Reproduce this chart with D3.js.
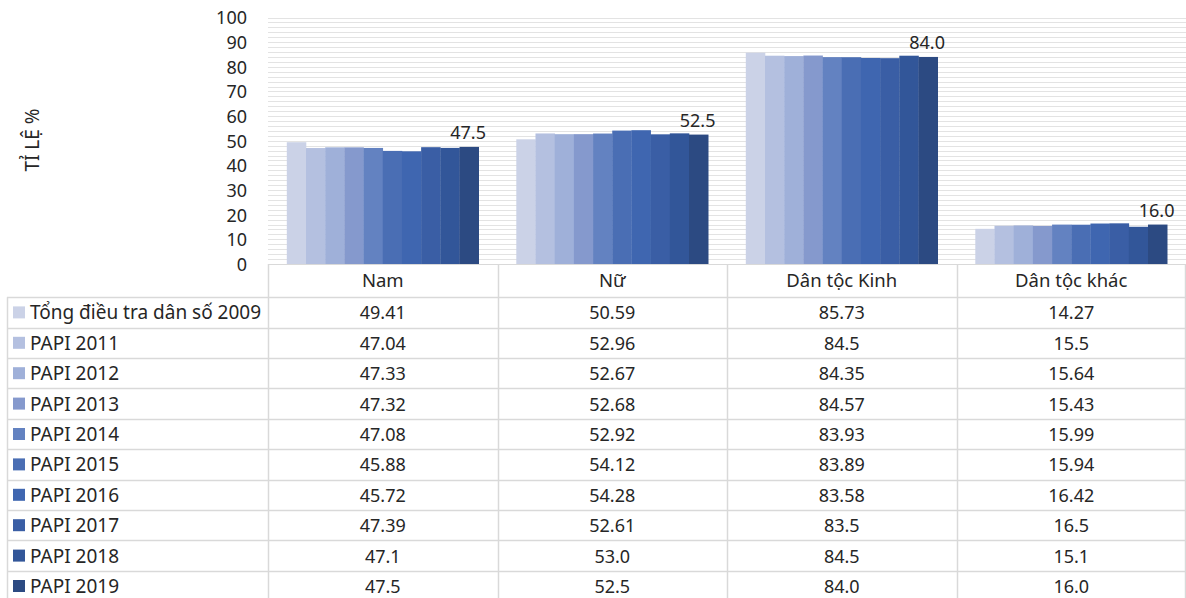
<!DOCTYPE html>
<html>
<head>
<meta charset="utf-8">
<script src="https://cdn.jsdelivr.net/npm/d3@7"></script>
<style>
  html, body { margin: 0; padding: 0; background: #fff; }
  text { font-family: "Noto Sans", "Open Sans", sans-serif; fill: #262626; }
</style>
</head>
<body>
<svg id="chart" width="1186" height="598"></svg>
<script>
// ---- Data ----
const categories = ["Nam", "Nữ", "Dân tộc Kinh", "Dân tộc khác"];
const seriesNames = ["Tổng điều tra dân số 2009", "PAPI 2011", "PAPI 2012", "PAPI 2013", "PAPI 2014",
                     "PAPI 2015", "PAPI 2016", "PAPI 2017", "PAPI 2018", "PAPI 2019"];
const v2009 = [49.41, 50.59, 85.73, 14.27];
const v2011 = [47.04, 52.96, 84.5, 15.5];
const v2012 = [47.33, 52.67, 84.35, 15.64];
const v2013 = [47.32, 52.68, 84.57, 15.43];
const v2014 = [47.08, 52.92, 83.93, 15.99];
const v2015 = [45.88, 54.12, 83.89, 15.94];
const v2016 = [45.72, 54.28, 83.58, 16.42];
const v2017 = [47.39, 52.61, 83.5, 16.5];
const v2018 = [47.1, 53.0, 84.5, 15.1];
const v2019 = [47.5, 52.5, 84.0, 16.0];
const seriesValues = [v2009, v2011, v2012, v2013, v2014, v2015, v2016, v2017, v2018, v2019];
const fixedDecimals = [null, null, null, null, null, null, null, null, 1, 1];
const colors = ["#cbd2e7", "#b4c0e0", "#9fb0d9", "#8599cd", "#6382c1", "#4a6eb4", "#3f66b0", "#3a5ea5", "#325699", "#2c4a82"];
const yTicks = [0, 10, 20, 30, 40, 50, 60, 70, 80, 90, 100];

// ---- Layout ----
const svg = d3.select("#chart");
const plotLeft = 268, plotRight = 1186, plotTop = 17.5, plotBottom = 264;
const tableLeft = 7, rowH = 30.4, headerBottom = 297.2;

const x0 = d3.scaleBand().domain(categories).range([plotLeft, plotRight]).paddingInner(0).paddingOuter(0);
const x1 = d3.scaleBand().domain(seriesNames).range([0, x0.bandwidth()]).paddingInner(0).paddingOuter(0.98);
const y = d3.scaleLinear().domain([0, 100]).range([plotBottom, plotTop]);

// minor gridlines every 2
const grid = d3.range(2, 101, 2);
svg.append("g").selectAll("line").data(grid).join("line")
  .attr("x1", plotLeft).attr("x2", plotRight)
  .attr("y1", d => Math.round(y(d)) + 0.5).attr("y2", d => Math.round(y(d)) + 0.5)
  .attr("stroke", "#e3e3e3").attr("stroke-width", 1);

// Y axis labels
const yAxis = d3.axisLeft(y).tickValues(yTicks).tickSize(0).tickPadding(0);
const gy = svg.append("g").attr("transform", `translate(247,0)`).call(yAxis);
gy.select(".domain").remove();
gy.selectAll("text").attr("font-size", 18).attr("dy", "0.35em")
  .style("font-family", '"Noto Sans", sans-serif').attr("fill", "#262626");

// axis title
svg.append("text").attr("transform", "translate(32,140) rotate(-90)")
  .attr("text-anchor", "middle").attr("dominant-baseline", "central")
  .attr("font-size", 19).text("TỈ LỆ %");

// Bars
const groups = svg.append("g").selectAll("g").data(seriesNames).join("g")
  .attr("fill", (d, i) => colors[i]);
groups.selectAll("rect").data((s, i) => categories.map((c, j) => ({ c, s, v: seriesValues[i][j] })))
  .join("rect")
  .attr("x", d => x0(d.c) + x1(d.s))
  .attr("width", x1.bandwidth() + 0.3)
  .attr("y", d => y(d.v))
  .attr("height", d => y(0) - y(d.v));

// Data labels for last series
const last = seriesNames.length - 1;
svg.append("g").selectAll("text").data(categories).join("text")
  .attr("x", (c) => x0(c) + x1(seriesNames[last]) + x1.bandwidth() / 2 - 1)
  .attr("y", (c, j) => y(seriesValues[last][j]) - 8)
  .attr("text-anchor", "middle").attr("font-size", 18)
  .text((c, j) => seriesValues[last][j].toFixed(1));

// ---- Data table ----
const tb = svg.append("g");
const lineColor = "#d9d9d9";
const tableBottom = headerBottom + rowH * seriesNames.length;
// header top
tb.append("line").attr("x1", plotLeft).attr("x2", plotRight - 0.5).attr("y1", plotBottom + 0.5).attr("y2", plotBottom + 0.5)
  .attr("stroke", lineColor);
// vertical lines
const vx = categories.map(c => x0(c)).concat([plotRight - 1]);
tb.selectAll("line.v").data(vx).join("line").attr("class", "v")
  .attr("x1", d => Math.round(d) + 0.5).attr("x2", d => Math.round(d) + 0.5)
  .attr("y1", plotBottom).attr("y2", tableBottom).attr("stroke", lineColor).attr("stroke-width", 1.5);
tb.append("line").attr("x1", tableLeft + 0.5).attr("x2", tableLeft + 0.5).attr("y1", headerBottom).attr("y2", tableBottom)
  .attr("stroke", lineColor).attr("stroke-width", 1.5);
// horizontal lines
const hy = d3.range(seriesNames.length + 1).map(i => headerBottom + i * rowH);
tb.selectAll("line.h").data(hy).join("line").attr("class", "h")
  .attr("x1", tableLeft).attr("x2", plotRight - 0.5)
  .attr("y1", d => Math.round(d) + 0.5).attr("y2", d => Math.round(d) + 0.5)
  .attr("stroke", lineColor).attr("stroke-width", 1.5);

// header labels
tb.selectAll("text.hd").data(categories).join("text").attr("class", "hd")
  .attr("x", c => x0(c) + x0.bandwidth() / 2).attr("y", (plotBottom + headerBottom) / 2 - 1)
  .attr("text-anchor", "middle").attr("dominant-baseline", "central").attr("font-size", 18.5)
  .text(c => c);

// rows
seriesNames.forEach((s, i) => {
  const cy = headerBottom + i * rowH + rowH / 2;
  tb.append("rect").attr("x", 13).attr("y", cy - 6).attr("width", 12).attr("height", 12).attr("fill", colors[i]);
  tb.append("text").attr("x", 30).attr("y", cy).attr("dominant-baseline", "central")
    .attr("font-size", 19).text(s);
  categories.forEach((c, j) => {
    const v = seriesValues[i][j];
    tb.append("text").attr("x", x0(c) + x0.bandwidth() / 2).attr("y", cy)
      .attr("text-anchor", "middle").attr("dominant-baseline", "central").attr("font-size", 18)
      .text(fixedDecimals[i] !== null ? v.toFixed(fixedDecimals[i]) : String(v));
  });
});
</script>
</body>
</html>
